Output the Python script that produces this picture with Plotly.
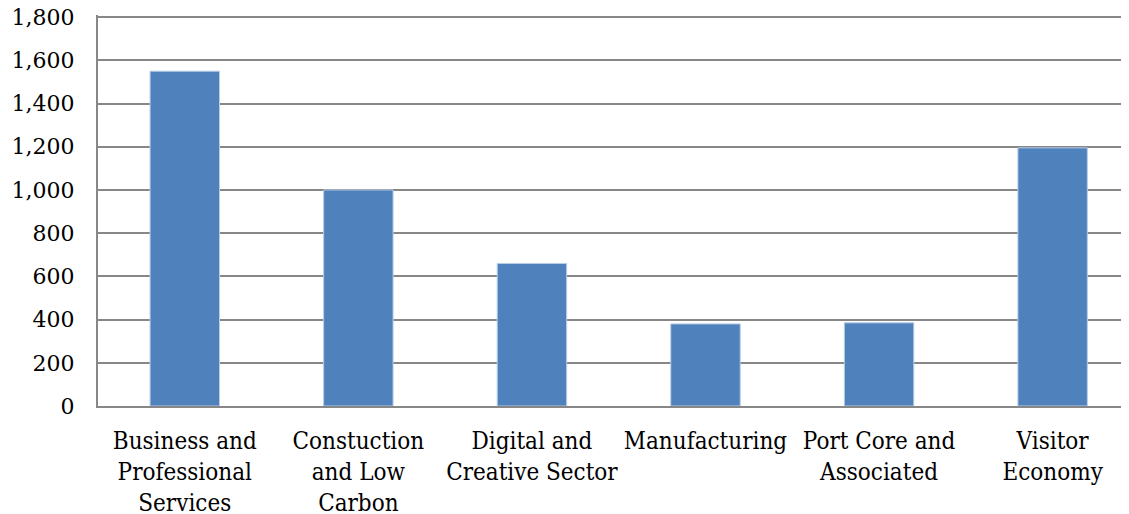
import plotly.graph_objects as go

categories = [
    "Business and<br>Professional<br>Services",
    "Constuction<br>and Low<br>Carbon",
    "Digital and<br>Creative Sector",
    "Manufacturing",
    "Port Core and<br>Associated",
    "Visitor<br>Economy",
]
values = [1550, 1000, 660, 380, 385, 1195]
y_ticks = [0, 200, 400, 600, 800, 1000, 1200, 1400, 1600, 1800]

font_family = "DejaVu Serif Condensed, DejaVu Serif"
grid_color = "#878787"

fig = go.Figure(
    go.Bar(
        x=categories,
        y=values,
        marker=dict(color="#4F81BD", line=dict(color="#B9CDE5", width=1)),
        width=0.4,
    )
)

fig.update_layout(
    width=1129,
    height=514,
    margin=dict(l=90, r=8, t=7, b=116),
    paper_bgcolor="white",
    plot_bgcolor="white",
    showlegend=False,
    font=dict(family=font_family, size=23, color="black"),
)

fig.update_xaxes(
    range=[-0.5, 5.44],
    showline=True,
    linecolor=grid_color,
    linewidth=2,
    showgrid=False,
    ticks="",
    tickangle=0,
    automargin=False,
    tickfont=dict(family=font_family, size=24, color="black"),
    ticklabelstandoff=12,
    ticklabeloverflow="allow",
)

fig.update_yaxes(
    range=[0, 1810],
    tickvals=y_ticks,
    tickformat=",",
    showline=True,
    linecolor=grid_color,
    linewidth=2,
    showgrid=True,
    gridcolor=grid_color,
    gridwidth=2,
    zeroline=False,
    ticks="",
    automargin=False,
    tickfont=dict(family="DejaVu Serif", size=22, color="black"),
    ticklabelstandoff=17,
    ticklabeloverflow="allow",
)

fig.write_html("out.html")
